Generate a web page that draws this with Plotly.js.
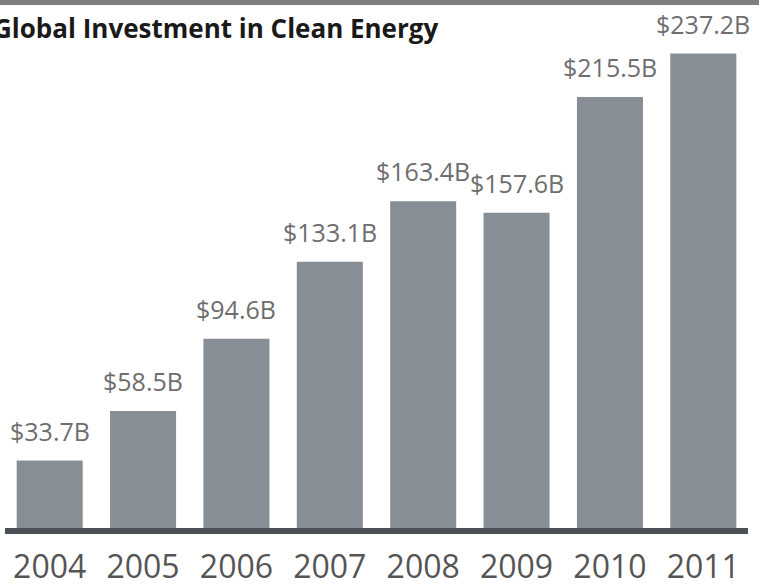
<!DOCTYPE html>
<html>
<head>
<meta charset="utf-8">
<script src="https://cdn.plot.ly/plotly-3.0.1.min.js"></script>
<style>html,body{margin:0;padding:0;background:#fff;}#chart{width:759px;height:587px;}</style>
</head>
<body>
<div id="chart"></div>
<script>
const years = ["2004", "2005", "2006", "2007", "2008", "2009", "2010", "2011"];
const investment = [33.7, 58.5, 94.6, 133.1, 163.4, 157.6, 215.5, 237.2];
const valueLabels = ["$33.7B", "$58.5B", "$94.6B", "$133.1B", "$163.4B", "$157.6B", "$215.5B", "$237.2B"];
const chartTitle = "Global Investment in Clean Energy";

const trace = {
  type: "bar",
  x: years,
  y: investment,
  marker: {color: "#878e95"},
  hoverinfo: "skip"
};

const annotations = years.map((yr, i) => ({
  x: i, y: investment[i], xref: "x", yref: "y",
  text: valueLabels[i], showarrow: false,
  xanchor: "center", yanchor: "middle", yshift: 30,
  font: {family: "Open Sans", size: 25, color: "#6e6e6e"}
}));
annotations.push({
  xref: "paper", yref: "paper", x: -0.016, y: 0.947,
  xanchor: "left", yanchor: "middle",
  text: "<b>" + chartTitle + "</b>", showarrow: false,
  font: {family: "Open Sans", size: 26, color: "#1a1a1a"}
});

const layout = {
  width: 759, height: 587,
  margin: {l: 3, r: 9, t: 0, b: 59},
  paper_bgcolor: "#ffffff", plot_bgcolor: "#ffffff",
  bargap: 0.293,
  showlegend: false,
  xaxis: {
    type: "category", range: [-0.5, 7.5], autorange: false,
    showgrid: false, zeroline: false, showline: false,
    ticks: "", tickfont: {family: "Open Sans", size: 32, color: "#555555"},
    ticklabelstandoff: 17
  },
  yaxis: {range: [0, 264], autorange: false, visible: false, fixedrange: true},
  shapes: [
    {type: "rect", xref: "paper", yref: "paper", x0: -0.1, x1: 1.1, y0: 1 - 5/528, y1: 1.05,
     fillcolor: "#7f7f7f", line: {width: 0}},
    {type: "line", xref: "paper", yref: "paper", x0: 0.0027, x1: 0.9973, y0: -3/528, y1: -3/528,
     line: {color: "#4b4f56", width: 6}}
  ],
  annotations: annotations
};

Plotly.newPlot("chart", [trace], layout, {displayModeBar: false, staticPlot: true});
</script>
</body>
</html>
